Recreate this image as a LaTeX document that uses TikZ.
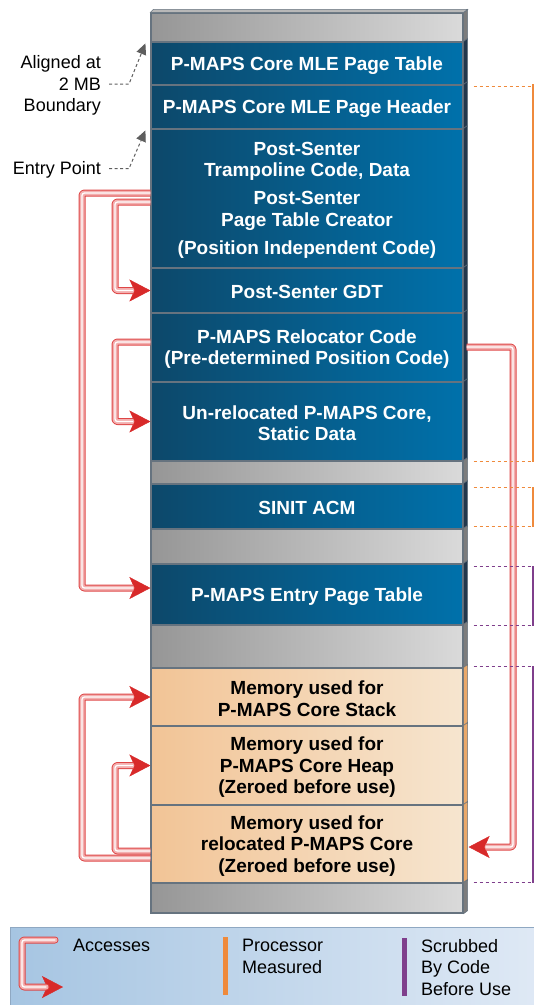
\documentclass[tikz,border=0pt]{standalone}
\usepackage{fontspec}
\setmainfont{Liberation Sans}
\usetikzlibrary{arrows.meta,calc}

\definecolor{blueL}{HTML}{0D486A}
\definecolor{blueR}{HTML}{0071AB}
\definecolor{grayL}{HTML}{969696}
\definecolor{grayR}{HTML}{DADADA}
\definecolor{peachL}{HTML}{F2C496}
\definecolor{peachR}{HTML}{F6E5CF}
\definecolor{sepline}{HTML}{66737F}
\definecolor{sideBlue}{HTML}{22374C}
\definecolor{sideGray}{HTML}{7C7C7C}
\definecolor{sidePeach}{HTML}{E9A869}
\definecolor{topGray}{HTML}{B8B8B8}
\definecolor{tubeRed}{HTML}{DE4646}
\definecolor{tubePink}{HTML}{F3AFAF}
\definecolor{tipRed}{HTML}{D82A2A}
\definecolor{measOrange}{HTML}{EF8A3C}
\definecolor{measPurple}{HTML}{7F3F8C}
\definecolor{legL}{HTML}{A6C5E2}
\definecolor{legR}{HTML}{DFE9F5}
\definecolor{legEdge}{HTML}{8FA8C2}
\definecolor{pointerGray}{HTML}{5E5E5E}

% one access arrow: red tip underneath, three-layer tube on top
\newcommand\accesstube[2][]{%
  \draw[tubetip] #2;
  \draw[tubeA,#1] #2;
  \draw[tubeB,#1] #2;
  \draw[tubeC,#1] #2;}

% one memory block of the column: name, top, bottom, style, text
\newcommand\memblock[5]{%
  \node[#4, minimum height={(#3-#2)*1pt}] (#1) at (307,{(#2+#3)/2}) {};
  \node[#4 text] (#1-txt) at ([yshift=-1.8pt]#1.center) {#5};}

\begin{document}
\begin{tikzpicture}[x=1pt,y=-1pt,
  blk/.style={rectangle, inner sep=0pt, minimum width=312pt, draw=sepline,
    line width=1.2pt},
  blktext/.style={inner sep=0pt, align=center,
    font=\fontsize{19}{21.5}\selectfont\bfseries},
  blueblk/.style={blk, left color=blueL, right color=blueR},
  blueblk text/.style={blktext, text=white},
  grayblk/.style={blk, left color=grayL, right color=grayR},
  grayblk text/.style={blktext},
  peachblk/.style={blk, left color=peachL, right color=peachR},
  peachblk text/.style={blktext, text=black},
  lbl/.style={inner sep=0pt, align=right, font=\fontsize{18}{21.5}\selectfont},
  lgd/.style={inner sep=0pt, align=left, font=\fontsize{18}{21.5}\selectfont},
  tubetip/.style={draw=tipRed, line width=0.4pt, rounded corners=2.5pt,
    -{Stealth[length=21pt,width=22pt,inset=5pt,fill=tipRed]}},
  tubebase/.style={line cap=butt, line join=round, rounded corners=2.5pt,
    shorten >=17pt},
  tubeA/.style={tubebase, draw=tubeRed, line width=7pt},
  tubeB/.style={tubebase, draw=tubePink, line width=5pt},
  tubeC/.style={tubebase, draw=white, line width=1.3pt},
  pointer/.style={draw=pointerGray, line width=1pt, dash pattern=on 3pt off 2.5pt,
    -{Triangle[length=11pt,width=10pt]}},
  measO/.style={draw=measOrange, line width=1.2pt, dash pattern=on 3.5pt off 2.5pt},
  measP/.style={draw=measPurple, line width=1.2pt, dash pattern=on 3.5pt off 2.5pt},
  measOv/.style={draw=measOrange, line width=1.5pt},
  measPv/.style={draw=measPurple, line width=1.5pt},
]
\useasboundingbox (0,0) rectangle (534,1005);

% ---- memory column ----
\memblock{g0}{13}{42}{grayblk}{}
\memblock{mlept}{42}{85}{blueblk}{P-MAPS Core MLE Page Table}
\memblock{mlehd}{85}{129}{blueblk}{P-MAPS Core MLE Page Header}
\memblock{post}{129}{268}{blueblk}{Post-Senter\\Trampoline Code, Data\\[6.5pt]Post-Senter\\Page Table Creator\\[6.5pt](Position Independent Code)}
\memblock{gdt}{268}{313}{blueblk}{Post-Senter GDT}
\memblock{reloc}{313}{382}{blueblk}{P-MAPS Relocator Code\\(Pre-determined Position Code)}
\memblock{unrel}{382}{461}{blueblk}{Un-relocated P-MAPS Core,\\Static Data}
\memblock{g1}{461}{484}{grayblk}{}
\memblock{sinit}{484}{529}{blueblk}{SINIT ACM}
\memblock{g2}{529}{564}{grayblk}{}
\memblock{entry}{564}{625}{blueblk}{P-MAPS Entry Page Table}
\memblock{g3}{625}{668}{grayblk}{}
\memblock{stack}{668}{726}{peachblk}{Memory used for\\P-MAPS Core Stack}
\memblock{heap}{726}{805}{peachblk}{Memory used for\\P-MAPS Core Heap\\(Zeroed before use)}
\memblock{relo}{805}{883}{peachblk}{Memory used for\\relocated P-MAPS Core\\(Zeroed before use)}
\memblock{g4}{883}{913}{grayblk}{}

% right-hand depth strip and top bevel
\foreach \n/\c in {g0/sideGray, mlept/sideBlue, mlehd/sideBlue, post/sideBlue,
    gdt/sideBlue, reloc/sideBlue, unrel/sideBlue, g1/sideGray, sinit/sideBlue,
    g2/sideGray, entry/sideBlue, g3/sideGray, stack/sidePeach, heap/sidePeach,
    relo/sidePeach, g4/sideGray}{
  \filldraw[fill=\c, draw=sepline, line width=0.6pt]
    (\n.north east) -- ++(4,-3) -- ($(\n.south east)+(4,-3)$) -- (\n.south east) -- cycle;
}
\filldraw[fill=topGray, draw=sepline, line width=0.6pt]
  (g0.north west) -- ++(3,-3) -- ($(g0.north east)+(4,-3)$) -- (g0.north east) -- cycle;

% ---- access arrows ----
\accesstube{(post.west |- 0,193) -- (82,193) -- (82,588) -- (entry.west |- 0,588)}
\accesstube{(post.west |- 0,202) -- (115,202) -- (115,290.5) -- (gdt.west)}
\accesstube{(reloc.west |- 0,342) -- (115,342) -- (115,421.5) -- (unrel.west)}
\accesstube{(relo.west |- 0,858) -- (82,858) -- (82,697) -- (stack.west)}
\accesstube{(relo.west |- 0,851) -- (115,851) -- (115,765.5) -- (heap.west)}
\accesstube{($(reloc.east |- 0,347)+(3,0)$) -- (513,347) -- (513,847) -- ($(relo.east |- 0,847)+(5,0)$)}

% ---- left-hand labels ----
\node[lbl, anchor=east] (aligned) at (101,85.5) {Aligned at\\2 MB\\Boundary};
\node[lbl, anchor=east] (entrypt) at (101,170) {Entry Point};
\draw[pointer] ($(aligned.east)+(8,-1.5)$) -- (129,84) -- ($(mlept.north west)+(-5,2)$);
\draw[pointer] ($(entrypt.east)+(8,-1.5)$) -- (129,168.5) -- ($(post.north west)+(-5,2)$);

% ---- measured / scrubbed brackets ----
\draw[measO] ($(mlehd.north east)+(10,2)$) -- ++(57,0);
\draw[measO] ($(unrel.south east)+(10,0)$) -- ++(57,0);
\draw[measOv] (mlehd.north east -| 533,0) -- (unrel.south east -| 533,0);
\draw[measO] ($(sinit.north east)+(10,4)$) -- ++(57,0);
\draw[measO] ($(sinit.south east)+(10,-3)$) -- ++(57,0);
\draw[measOv] ($(sinit.north east -| 533,0)+(0,4)$) -- ($(sinit.south east -| 533,0)+(0,-3)$);
\draw[measP] ($(entry.north east)+(10,3)$) -- ++(57,0);
\draw[measP] ($(entry.south east)+(10,0)$) -- ++(57,0);
\draw[measPv] ($(entry.north east -| 533,0)+(0,3)$) -- (entry.south east -| 533,0);
\draw[measP] ($(stack.north east)+(10,-1)$) -- ++(57,0);
\draw[measP] ($(relo.south east)+(10,-1)$) -- ++(57,0);
\draw[measPv] ($(stack.north east -| 533,0)+(0,-1)$) -- ($(relo.south east -| 533,0)+(0,-1)$);

% ---- legend ----
\node[draw=legEdge, line width=1pt, left color=legL, right color=legR, inner sep=0pt,
  minimum width=530pt, minimum height=82pt, anchor=north west] (legend) at (10,927) {};
\coordinate (legStart) at (55,940);
\coordinate (legEnd) at (63,987);
\accesstube[line cap=round]{(legStart) -- (22,940) -- (22,987) -- (legEnd)}
\node[lgd, anchor=north west] (accTxt) at (73,939) {Accesses};
\fill[measOrange] (223,937) rectangle (228,995);
\node[lgd, anchor=north west] (procTxt) at (242,939) {Processor\\Measured};
\fill[measPurple] (402,938) rectangle (407,996);
\node[lgd, anchor=north west] (scrubTxt) at (421,939) {Scrubbed\\By Code\\Before Use};
\end{tikzpicture}
\end{document}
